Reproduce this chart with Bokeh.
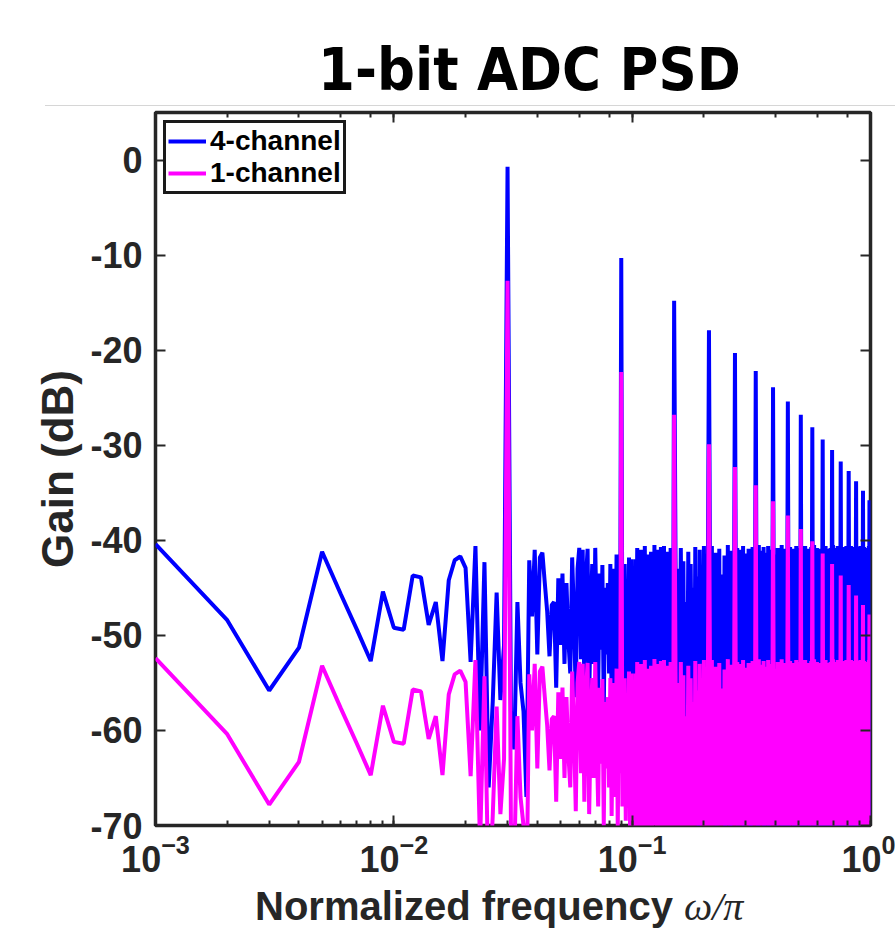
from bokeh.plotting import figure
from bokeh.models import (LogAxis, LinearAxis, FixedTicker, Div, Legend,
                          LegendItem, Range1d, ColumnDataSource, LogTicker)
from bokeh.layouts import column
from bokeh.embed import file_html
from bokeh.resources import INLINE

TITLE = "1-bit ADC PSD"
X_LABEL = "Normalized frequency"
X_LABEL_SYM = "ω/π"
Y_LABEL = "Gain (dB)"
SERIES_NAMES = ["4-channel", "1-channel"]
Y_TICKS = [-70, -60, -50, -40, -30, -20, -10, 0]
Y_TICK_LABELS = ["-70", "-60", "-50", "-40", "-30", "-20", "-10", "0"]

# FFT bins (frequency = bin / 1000): every bin up to 150, every 2nd bin above
bins = list(range(1, 151)) + list(range(152, 1001, 2))
freq = [k / 1000 for k in bins]

gain_4ch = [
    # bins 1..150
    -40.4, -48.4, -55.8, -51.3, -41.2, -45.7, -49.4, -52.7, -45.4, -49.2,
    -49.4, -43.7, -43.9, -48.9, -46.5, -52.7, -44.2, -42.1, -41.7, -42.9,
    -52.8, -40.6, -60.0, -42.3, -66.0, -57.0, -45.5, -56.8, -51.0, -0.7,
    -58.0, -62.0, -46.5, -55.0, -58.0, -67.0, -42.1, -48.0, -41.0, -52.0,
    -41.8, -41.3, -44.5, -47.5, -52.2, -46.8, -46.5, -55.5, -44.0, -51.0,
    -43.5, -53.0, -44.5, -50.5, -54.0, -41.8, -48.0, -56.5, -43.0, -40.8,
    -52.5, -41.0, -55.5, -44.0, -40.9, -56.8, -47.5, -42.5, -53.0, -40.8,
    -49.0, -56.0, -43.5, -51.5, -42.6, -58.0, -45.0, -52.0, -44.5, -54.0,
    -42.5, -57.0, -46.0, -43.0, -55.0, -41.5, -58.5, -44.0, -52.5, -10.3,
    -56.0, -47.0, -42.5, -57.5, -44.5, -53.0, -41.8, -59.0, -42.0, -59.5,
    -44.5, -60.0, -42.0, -55.0, -40.8, -60.5, -46.0, -58.5, -41.0, -54.5,
    -43.5, -61.0, -40.6, -58.5, -56.0, -41.5, -59.0, -44.0, -61.0, -41.2,
    -62.0, -43.0, -55.5, -40.5, -58.0, -45.5, -60.0, -41.0, -63.0, -42.5,
    -56.5, -40.7, -62.0, -47.0, -60.5, -40.6, -59.0, -44.0, -64.0, -41.2,
    -57.5, -42.5, -60.5, -59.0, -40.8, -55.0, -43.5, -61.5, -41.5, -14.8,
    # bins 152..208, 210
    -41.5, -60.5, -43.0, -63.0, -40.8, -58.5, -42.2, -66.0, -46.5, -59.5, -41.2, -68.0, -42.5, -56.5, -45.0,
    -62.0, -40.7, -64.5, -43.8, -71.0, -41.0, -57.5, -42.9, -61.0, -40.6, -67.5, -44.2, -60.0, -41.4,
    -17.9,
    # bins 212..268, 270
    -42.0, -66.0, -40.6, -59.0, -44.5, -63.0, -41.3, -70.0, -42.8, -58.0, -40.9, -69.0, -43.6, -61.5, -46.0,
    -65.5, -41.6, -72.0, -43.2, -57.0, -40.5, -62.5, -42.4, -74.0, -41.1, -59.5, -44.9, -67.0, -40.8,
    -20.3,
    # bins 272..328, 330
    -43.5, -62.5, -40.8, -70.0, -42.2, -60.0, -41.0, -65.0, -44.8, -58.5, -40.6, -73.0, -42.7, -61.0, -41.4,
    -67.5, -45.5, -59.0, -40.9, -64.0, -42.0, -71.5, -43.9, -57.5, -40.7, -66.5, -41.8, -62.0, -42.6,
    -22.2,
    # bins 332..388, 390
    -41.8, -59.0, -43.6, -74.0, -40.5, -61.5, -42.4, -68.0, -41.1, -60.5, -44.2, -63.5, -40.7, -71.0, -42.9,
    -58.0, -41.3, -66.0, -43.0, -62.5, -40.6, -75.0, -42.1, -60.0, -44.6, -64.5, -41.0, -69.5, -42.7,
    -23.9,
    # bins 392..448, 450
    -40.6, -66.5, -42.0, -59.5, -41.5, -75.0, -43.9, -61.0, -40.8, -62.5, -42.6, -69.5, -41.2, -58.5, -44.5,
    -64.5, -40.5, -72.0, -42.2, -60.5, -41.7, -67.0, -43.3, -63.0, -40.9, -77.0, -42.5, -59.0, -41.1,
    -25.4,
    # bins 452..508, 510
    -41.0, -72.5, -43.3, -60.0, -40.7, -63.5, -42.1, -67.5, -45.0, -58.0, -40.9, -61.0, -43.7, -76.0, -41.4,
    -59.5, -42.8, -65.5, -40.6, -70.0, -42.3, -62.0, -41.6, -68.5, -44.0, -60.5, -40.8, -73.5, -42.9,
    -26.8,
    # bins 512..568, 570
    -42.4, -60.0, -40.8, -70.5, -43.1, -61.5, -41.3, -64.0, -44.0, -74.5, -40.6, -58.5, -42.5, -62.0, -41.0,
    -68.0, -43.4, -59.0, -40.9, -66.5, -42.0, -71.0, -41.5, -60.5, -43.8, -63.5, -40.7, -69.0, -42.2,
    -28.1,
    # bins 572..628, 630
    -41.6, -65.0, -42.9, -59.0, -40.5, -73.5, -43.8, -61.5, -41.2, -67.0, -42.3, -70.0, -40.8, -63.0, -44.2,
    -58.5, -41.5, -75.5, -42.6, -60.0, -40.9, -66.0, -43.1, -62.5, -41.3, -71.5, -42.0, -59.5, -40.7,
    -29.4,
    # bins 632..688, 690
    -40.7, -62.5, -42.2, -67.0, -41.4, -60.0, -43.5, -72.0, -40.6, -60.5, -42.8, -64.5, -41.1, -58.0, -44.0,
    -69.0, -40.9, -61.0, -43.2, -74.0, -41.6, -63.5, -42.4, -59.5, -40.8, -66.5, -43.7, -70.5, -41.3,
    -30.5,
    # bins 692..748, 750
    -41.3, -58.5, -40.5, -71.0, -42.7, -63.5, -41.8, -66.5, -43.6, -59.5, -40.8, -74.0, -42.0, -61.0, -41.2,
    -65.0, -44.3, -62.0, -40.6, -68.5, -42.5, -60.0, -41.0, -72.5, -43.0, -64.0, -40.9, -59.0, -42.1,
    -31.7,
    # bins 752..808, 810
    -42.5, -69.5, -41.0, -60.0, -43.3, -62.5, -40.7, -72.5, -42.1, -63.0, -41.5, -58.5, -44.1, -76.5, -40.9,
    -61.5, -42.9, -67.0, -41.3, -64.5, -40.6, -70.5, -43.4, -59.5, -41.8, -66.0, -42.4, -73.0, -40.8,
    -32.7,
    # bins 812..868, 870
    -40.8, -64.0, -42.6, -70.5, -41.2, -59.0, -43.8, -62.5, -40.6, -73.0, -42.3, -60.5, -41.7, -66.0, -43.0,
    -61.5, -40.9, -68.5, -42.4, -58.5, -41.1, -71.5, -43.5, -63.0, -40.7, -65.5, -42.0, -75.0, -41.5,
    -33.8,
    # bins 872..928, 930
    -41.4, -61.5, -40.7, -65.5, -43.2, -74.5, -41.0, -59.5, -42.5, -63.0, -40.8, -70.0, -44.0, -60.0, -41.6,
    -67.5, -42.8, -62.0, -40.6, -72.0, -42.2, -58.5, -41.3, -69.0, -43.6, -64.0, -40.9, -60.5, -42.0,
    -34.8,
    # bins 932..988, 990
    -42.1, -72.0, -41.3, -62.5, -40.7, -66.0, -43.4, -60.0, -41.8, -75.0, -40.9, -63.5, -42.6, -69.0, -41.2,
    -61.0, -43.7, -64.5, -40.8, -70.5, -42.3, -59.0, -41.0, -67.0, -43.1, -62.0, -40.6, -73.5, -42.4,
    -35.8,
    # bins 992..1000
    -41.5, -66.0, -42.0, -61.0, -41.2,
]

gain_1ch = [
    # bins 1..150
    -52.4, -60.4, -67.8, -63.3, -53.2, -57.7, -61.4, -64.7, -57.4, -61.2,
    -61.4, -55.7, -55.9, -60.9, -58.5, -64.7, -56.2, -54.1, -53.7, -54.9,
    -64.8, -52.6, -72.0, -54.3, -78.0, -69.0, -57.5, -68.8, -63.0, -12.7,
    -70.0, -74.0, -58.5, -67.0, -70.0, -79.0, -54.1, -60.0, -53.0, -64.0,
    -53.8, -53.3, -56.5, -59.5, -64.2, -58.8, -58.5, -67.5, -56.0, -63.0,
    -55.5, -65.0, -56.5, -62.5, -66.0, -53.8, -60.0, -68.5, -55.0, -52.8,
    -64.5, -53.0, -67.5, -56.0, -52.9, -68.8, -59.5, -54.5, -65.0, -52.8,
    -61.0, -68.0, -55.5, -63.5, -54.6, -70.0, -57.0, -64.0, -56.5, -66.0,
    -54.5, -69.0, -58.0, -55.0, -67.0, -53.5, -70.5, -56.0, -64.5, -22.3,
    -68.0, -59.0, -54.5, -69.5, -56.5, -65.0, -53.8, -71.0, -54.0, -71.5,
    -56.5, -72.0, -54.0, -67.0, -52.8, -72.5, -58.0, -70.5, -53.0, -66.5,
    -55.5, -73.0, -52.6, -70.5, -68.0, -53.5, -71.0, -56.0, -73.0, -53.2,
    -74.0, -55.0, -67.5, -52.5, -70.0, -57.5, -72.0, -53.0, -75.0, -54.5,
    -68.5, -52.7, -74.0, -59.0, -72.5, -52.6, -71.0, -56.0, -76.0, -53.2,
    -69.5, -54.5, -72.5, -71.0, -52.8, -67.0, -55.5, -73.5, -53.5, -26.8,
    # bins 152..208, 210
    -53.5, -72.5, -55.0, -75.0, -52.8, -70.5, -54.2, -78.0, -58.5, -71.5, -53.2, -80.0, -54.5, -68.5, -57.0,
    -74.0, -52.7, -76.5, -55.8, -83.0, -53.0, -69.5, -54.9, -73.0, -52.6, -79.5, -56.2, -72.0, -53.4,
    -29.9,
    # bins 212..268, 270
    -54.0, -78.0, -52.6, -71.0, -56.5, -75.0, -53.3, -82.0, -54.8, -70.0, -52.9, -81.0, -55.6, -73.5, -58.0,
    -77.5, -53.6, -84.0, -55.2, -69.0, -52.5, -74.5, -54.4, -86.0, -53.1, -71.5, -56.9, -79.0, -52.8,
    -32.3,
    # bins 272..328, 330
    -55.5, -74.5, -52.8, -82.0, -54.2, -72.0, -53.0, -77.0, -56.8, -70.5, -52.6, -85.0, -54.7, -73.0, -53.4,
    -79.5, -57.5, -71.0, -52.9, -76.0, -54.0, -83.5, -55.9, -69.5, -52.7, -78.5, -53.8, -74.0, -54.6,
    -34.2,
    # bins 332..388, 390
    -53.8, -71.0, -55.6, -86.0, -52.5, -73.5, -54.4, -80.0, -53.1, -72.5, -56.2, -75.5, -52.7, -83.0, -54.9,
    -70.0, -53.3, -78.0, -55.0, -74.5, -52.6, -87.0, -54.1, -72.0, -56.6, -76.5, -53.0, -81.5, -54.7,
    -35.9,
    # bins 392..448, 450
    -52.6, -78.5, -54.0, -71.5, -53.5, -87.0, -55.9, -73.0, -52.8, -74.5, -54.6, -81.5, -53.2, -70.5, -56.5,
    -76.5, -52.5, -84.0, -54.2, -72.5, -53.7, -79.0, -55.3, -75.0, -52.9, -89.0, -54.5, -71.0, -53.1,
    -37.4,
    # bins 452..508, 510
    -53.0, -84.5, -55.3, -72.0, -52.7, -75.5, -54.1, -79.5, -57.0, -70.0, -52.9, -73.0, -55.7, -88.0, -53.4,
    -71.5, -54.8, -77.5, -52.6, -82.0, -54.3, -74.0, -53.6, -80.5, -56.0, -72.5, -52.8, -85.5, -54.9,
    -38.8,
    # bins 512..568, 570
    -54.4, -72.0, -52.8, -82.5, -55.1, -73.5, -53.3, -76.0, -56.0, -86.5, -52.6, -70.5, -54.5, -74.0, -53.0,
    -80.0, -55.4, -71.0, -52.9, -78.5, -54.0, -83.0, -53.5, -72.5, -55.8, -75.5, -52.7, -81.0, -54.2,
    -40.1,
    # bins 572..628, 630
    -53.6, -77.0, -54.9, -71.0, -52.5, -85.5, -55.8, -73.5, -53.2, -79.0, -54.3, -82.0, -52.8, -75.0, -56.2,
    -70.5, -53.5, -87.5, -54.6, -72.0, -52.9, -78.0, -55.1, -74.5, -53.3, -83.5, -54.0, -71.5, -52.7,
    -41.4,
    # bins 632..688, 690
    -52.7, -74.5, -54.2, -79.0, -53.4, -72.0, -55.5, -84.0, -52.6, -72.5, -54.8, -76.5, -53.1, -70.0, -56.0,
    -81.0, -52.9, -73.0, -55.2, -86.0, -53.6, -75.5, -54.4, -71.5, -52.8, -78.5, -55.7, -82.5, -53.3,
    -42.5,
    # bins 692..748, 750
    -53.3, -70.5, -52.5, -83.0, -54.7, -75.5, -53.8, -78.5, -55.6, -71.5, -52.8, -86.0, -54.0, -73.0, -53.2,
    -77.0, -56.3, -74.0, -52.6, -80.5, -54.5, -72.0, -53.0, -84.5, -55.0, -76.0, -52.9, -71.0, -54.1,
    -43.7,
    # bins 752..808, 810
    -54.5, -81.5, -53.0, -72.0, -55.3, -74.5, -52.7, -84.5, -54.1, -75.0, -53.5, -70.5, -56.1, -88.5, -52.9,
    -73.5, -54.9, -79.0, -53.3, -76.5, -52.6, -82.5, -55.4, -71.5, -53.8, -78.0, -54.4, -85.0, -52.8,
    -44.7,
    # bins 812..868, 870
    -52.8, -76.0, -54.6, -82.5, -53.2, -71.0, -55.8, -74.5, -52.6, -85.0, -54.3, -72.5, -53.7, -78.0, -55.0,
    -73.5, -52.9, -80.5, -54.4, -70.5, -53.1, -83.5, -55.5, -75.0, -52.7, -77.5, -54.0, -87.0, -53.5,
    -45.8,
    # bins 872..928, 930
    -53.4, -73.5, -52.7, -77.5, -55.2, -86.5, -53.0, -71.5, -54.5, -75.0, -52.8, -82.0, -56.0, -72.0, -53.6,
    -79.5, -54.8, -74.0, -52.6, -84.0, -54.2, -70.5, -53.3, -81.0, -55.6, -76.0, -52.9, -72.5, -54.0,
    -46.8,
    # bins 932..988, 990
    -54.1, -84.0, -53.3, -74.5, -52.7, -78.0, -55.4, -72.0, -53.8, -87.0, -52.9, -75.5, -54.6, -81.0, -53.2,
    -73.0, -55.7, -76.5, -52.8, -82.5, -54.3, -71.0, -53.0, -79.0, -55.1, -74.0, -52.6, -85.5, -54.4,
    -47.8,
    # bins 992..1000
    -53.5, -78.0, -54.0, -73.0, -53.2,
]

AX = "#262626"
FONT = "Liberation Sans"

source = ColumnDataSource(dict(freq=freq, g4=gain_4ch, g1=gain_1ch))

p = figure(width=895, height=778, x_axis_type="log",
           x_range=Range1d(0.001, 1.0), y_range=Range1d(-70, 5),
           output_backend="svg", toolbar_location=None,
           min_border_left=155, min_border_right=25,
           min_border_top=5, min_border_bottom=60)
p.background_fill_color = "white"
p.border_fill_color = "white"
p.outline_line_color = AX
p.outline_line_width = 3.5
p.xgrid.grid_line_color = None
p.ygrid.grid_line_color = None

r4 = p.line("freq", "g4", source=source, line_color="#0000FF", line_width=4)
r1 = p.line("freq", "g1", source=source, line_color="#FF00FF", line_width=4)


def style_axis(ax, labels=True, minor=True):
    ax.axis_line_color = None
    ax.major_tick_in = 10
    ax.major_tick_out = 0
    ax.minor_tick_in = 5
    ax.minor_tick_out = 0
    ax.major_tick_line_color = AX
    ax.major_tick_line_width = 2
    ax.minor_tick_line_color = AX if minor else None
    ax.minor_tick_line_width = 2
    ax.major_label_text_font = FONT
    ax.major_label_text_font_style = "bold"
    if labels:
        ax.major_label_text_color = AX
        ax.major_label_text_font_size = "36px"
    else:
        ax.major_label_text_alpha = 0.0
        ax.major_label_text_font_size = "1px"
        ax.major_label_standoff = 0


xa = p.xaxis[0]
style_axis(xa)
xa.major_label_standoff = 8

ya = p.yaxis[0]
ya.ticker = FixedTicker(ticks=Y_TICKS)
ya.major_label_overrides = dict(zip(Y_TICKS, Y_TICK_LABELS))
style_axis(ya, minor=False)
ya.major_label_standoff = 13
ya.axis_label = Y_LABEL
ya.axis_label_text_font = FONT
ya.axis_label_text_font_style = "bold"
ya.axis_label_text_font_size = "44px"
ya.axis_label_text_color = AX
ya.axis_label_standoff = 5

top = LogAxis(ticker=LogTicker())
style_axis(top, labels=False)
p.add_layout(top, "above")

right = LinearAxis(ticker=FixedTicker(ticks=Y_TICKS))
style_axis(right, labels=False, minor=False)
p.add_layout(right, "right")

legend = Legend(items=[LegendItem(label=SERIES_NAMES[0], renderers=[r4]),
                       LegendItem(label=SERIES_NAMES[1], renderers=[r1])],
                location="top_left")
legend.border_line_color = "#1a1a1a"
legend.border_line_alpha = 1.0
legend.border_line_width = 3
legend.background_fill_color = "white"
legend.background_fill_alpha = 1.0
legend.label_text_font = FONT
legend.label_text_font_style = "bold"
legend.label_text_font_size = "28px"
legend.label_text_color = "black"
legend.glyph_width = 38
legend.glyph_height = 26
legend.label_height = 26
legend.label_standoff = 4
legend.spacing = 0
legend.padding = 2
legend.margin = 8
p.add_layout(legend)

title_html = (
    '<div style="position:relative;width:850px;height:106px;'
    'border-bottom:1px solid #d6d6d6;">'
    '<div style="position:absolute;left:273px;top:41px;white-space:nowrap;'
    "font-family:'DejaVu Sans';font-weight:bold;font-size:58px;line-height:1;"
    'color:#000;transform:scaleX(0.915);transform-origin:left top;">'
    + TITLE + '</div></div>'
)
title_div = Div(text=title_html, width=850, height=107, margin=(0, 0, 0, 45))

xlabel_html = (
    '<div style="position:relative;width:895px;height:55px;">'
    '<div style="position:absolute;left:255px;top:1px;white-space:nowrap;'
    'line-height:1;font-size:40px;color:' + AX + ';">'
    "<span style=\"font-family:'Liberation Sans';font-weight:bold;\">" + X_LABEL + '</span>'
    "<span style=\"font-family:'Liberation Sans';\"> </span>"
    "<span style=\"font-family:'Liberation Serif';font-style:italic;\">" + X_LABEL_SYM + '</span>'
    '</div></div>'
)
xlabel_div = Div(text=xlabel_html, width=895, height=55, margin=(0, 0, 0, 0))

layout = column(title_div, p, xlabel_div, spacing=0)
open("out.html", "w").write(file_html(layout, INLINE))
